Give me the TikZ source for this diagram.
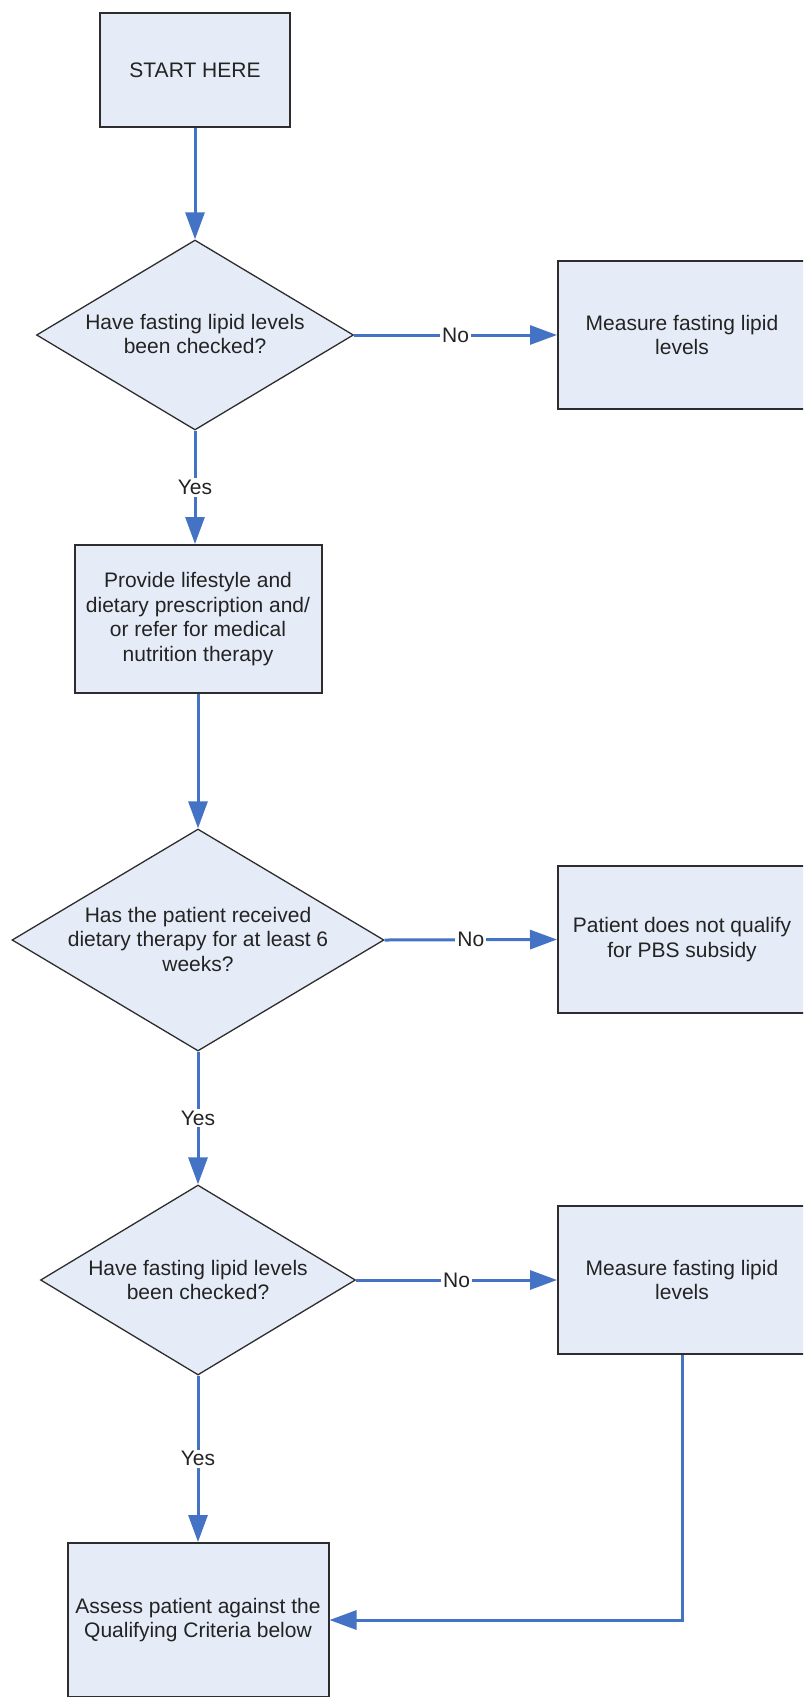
\documentclass[tikz,border=0pt]{standalone}
\usepackage{fontspec}
\setmainfont{Liberation Sans}
\usetikzlibrary{shapes.geometric,arrows.meta}
\definecolor{boxfill}{RGB}{230,236,247}
\definecolor{flowblue}{RGB}{68,114,196}
\definecolor{edgegray}{RGB}{45,45,45}
\definecolor{txtgray}{RGB}{35,35,35}
\begin{document}
\begin{tikzpicture}[x=1pt,y=-1pt,
  font=\fontsize{21}{24.5}\selectfont,
  procbox/.style={rectangle, draw=edgegray, line width=2pt, fill=boxfill, align=center, inner sep=0pt, text=txtgray},
  decision/.style={diamond, draw=edgegray, line width=1.3pt, fill=boxfill, inner sep=0pt},
  dtext/.style={align=center, inner sep=0pt, text=txtgray},
  flow/.style={draw=flowblue, line width=3pt, -{Triangle[length=27pt,width=19pt]}},
  lbl/.style={fill=white, inner sep=2pt, text=txtgray}
]
\useasboundingbox (0,0) rectangle (803,1697);
\clip (0,0) rectangle (803,1697);

% nodes
\node[procbox, minimum width=190pt, minimum height=114pt] (start) at (195,70) {START HERE};

\node[decision, minimum width=317pt, minimum height=190pt] (d1) at (195,335) {};
\node[dtext] (d1t) at (195,334) {Have fasting lipid levels\\been checked?};

\node[procbox, minimum width=248pt, minimum height=148pt] (m1) at (682,335) {Measure fasting lipid\\levels};

\node[procbox, minimum width=247pt, minimum height=148pt] (b2) at (198,619) {Provide lifestyle and\\dietary prescription and/\\or refer for medical\\nutrition therapy};

\node[decision, minimum width=372pt, minimum height=222pt] (d2) at (198,940) {};
\node[dtext] (d2t) at (198,939) {Has the patient received\\dietary therapy for at least 6\\weeks?};

\node[procbox, minimum width=248pt, minimum height=147pt] (p) at (682,939.5) {Patient does not qualify\\for PBS subsidy};

\node[decision, minimum width=315pt, minimum height=190pt] (d3) at (198,1280) {};
\node[dtext] (d3t) at (198,1280) {Have fasting lipid levels\\been checked?};

\node[procbox, minimum width=248pt, minimum height=148pt] (m2) at (682,1280) {Measure fasting lipid\\levels};

\node[procbox, minimum width=261pt, minimum height=154pt] (b5) at (198,1620) {Assess patient against the\\Qualifying Criteria below};

% connectors
\draw[flow] (start.south) -- (d1.north);
\draw[flow] (d1.east) -- node[lbl] (no1) {No} (m1.west);
\draw[flow] (d1.south) -- node[lbl] (yes1) {Yes} (d1.south |- b2.north);
\draw[flow] (b2.south) -- (d2.north);
\draw[flow] (d2.east) -- node[lbl] (no2) {No} (p.west);
\draw[flow] (d2.south) -- node[lbl] (yes2) {Yes} (d3.north);
\draw[flow] (d3.east) -- node[lbl] (no3) {No} (m2.west);
\draw[flow] (d3.south) -- node[lbl] (yes3) {Yes} (b5.north);
\draw[flow] (m2.south) |- (b5.east);
\end{tikzpicture}
\end{document}
